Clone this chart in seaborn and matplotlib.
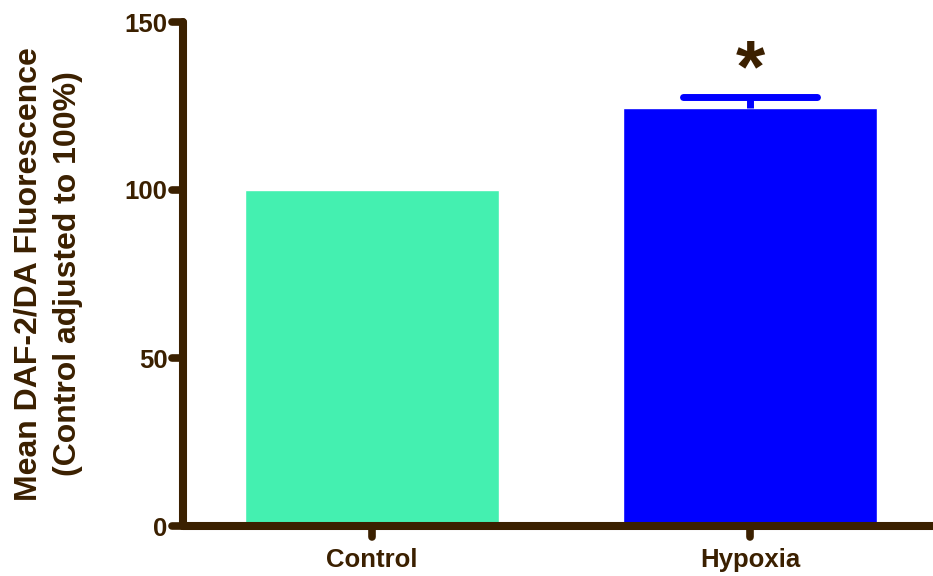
import matplotlib
matplotlib.use("Agg")
import matplotlib.pyplot as plt
from matplotlib.markers import MarkerStyle
import seaborn as sns
import pandas as pd

# data
groups = ["Control", "Hypoxia"]
means = [100.0, 124.4]
sem = [0.0, 3.4]
colors = ["#44F0B0", "#0000FF"]
ink = "#3B2000"

sns.set_style("white")
plt.rcParams['font.family'] = ['Liberation Sans', 'DejaVu Sans']

df = pd.DataFrame({"group": groups, "mean": means})

fig = plt.figure(figsize=(9.33, 5.76), dpi=100)
ax = fig.add_axes([183 / 933, 50 / 576, 750 / 933, 504 / 576])

sns.barplot(data=df, x="group", y="mean", hue="group", palette=colors,
            width=0.67, legend=False, ax=ax, errorbar=None, saturation=1)

# upper error bar only on hypoxia
_, caps, bars = ax.errorbar([1], [means[1]], yerr=[[0], [sem[1]]], fmt="none",
                            ecolor=colors[1], elinewidth=5, capsize=48, capthick=5)
caps[0].remove()
caps[1].set_marker(MarkerStyle("_", capstyle="round"))

ax.text(1, means[1] + sem[1] + 1.5, "*", ha="center", va="baseline", fontsize=54,
        fontweight="bold", color=ink)

ax.set_xlim(-0.5, 1.484)
ax.set_ylim(0, 150)
ax.set_yticks([0, 50, 100, 150])
ax.set_xlabel("")
ax.set_ylabel("Mean DAF-2/DA Fluorescence\n(Control adjusted to 100%)",
              fontsize=23, fontweight="bold", color=ink, labelpad=30, linespacing=1.4)

sns.despine(ax=ax)
for side in ["left", "bottom"]:
    ax.spines[side].set_linewidth(5.8)
    ax.spines[side].set_color(ink)
    ax.spines[side].set_capstyle("round")
ax.tick_params(axis="both", direction="out", length=8, width=5.5, color=ink,
               labelcolor=ink, labelsize=18.5, pad=3, bottom=True, left=True)
ax.tick_params(axis="x", pad=8)
for lab in ax.get_xticklabels() + ax.get_yticklabels():
    lab.set_fontweight("bold")
for tl in ax.xaxis.get_ticklines() + ax.yaxis.get_ticklines():
    tl.set_marker(MarkerStyle(tl.get_marker(), capstyle="round"))

plt.savefig("out.png", dpi=100)
